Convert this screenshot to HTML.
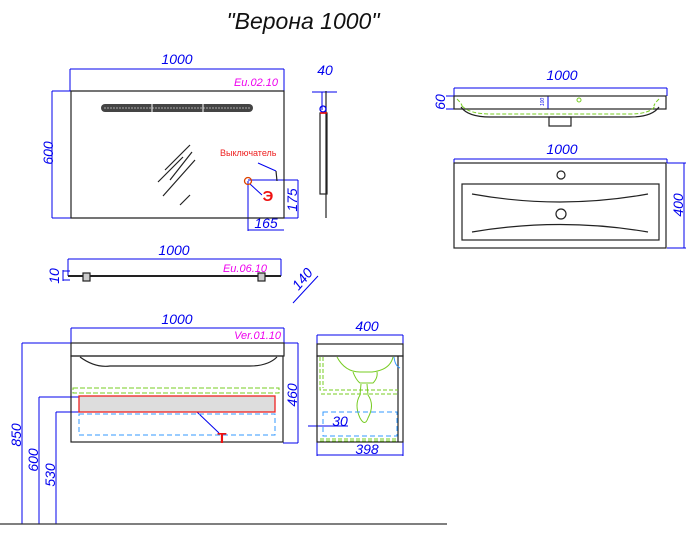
<!DOCTYPE html>
<html><head><meta charset="utf-8"><style>
html,body{margin:0;padding:0;background:#fff;width:698px;height:537px;overflow:hidden}
text{font-family:"Liberation Sans",sans-serif;font-style:italic}
</style></head><body>
<svg width="698" height="537" viewBox="0 0 698 537" xmlns="http://www.w3.org/2000/svg">
<text x="303" y="29" font-size="23" text-anchor="middle" fill="#111">"Верона 1000"</text>
<g fill="none" stroke="#0000ee" stroke-width="1">
<path d="M70 69H284M70 69V91M284 69V91M52 91V218M52 91H97M52 218H97"/>
<path d="M248 181V231M248 230H284M248 180H298M298 180V218M284 218H298"/>
<path d="M312 92H337M322 92V110"/>
<path d="M68 259H281M68 259V276M281 259V276M63 270V281M63 271H70M63 280H70M293 303L318 276"/>
<path d="M71 328H284M71 328V343M284 328V343M283 343H298M298 343V443M283 443H298"/>
<path d="M22 343H71M22 343V524M39 397H79M39 397V524M56 412H79M56 412V524"/>
<path d="M197 412L219 433"/>
<path d="M317 335H403M317 335V344M403 335V344M317 455H403M317 442V456M403 442V456M308 426H348"/>
<path d="M454 88H667M454 88V96M667 88V96M454 159H667M454 159V163M667 159V163M667 163H686M667 248H686M684 163V248M446 96H454M446 109H454M548 96H565M548 96V109"/>
<path d="M258 163L276 171"/>
<path d="M250 184L262 195"/>
</g>
<g fill="#0000ee" font-size="14">
<text x="177" y="64" text-anchor="middle">1000</text>
<text x="325" y="75" text-anchor="middle">40</text>
<text transform="translate(53,153) rotate(-90)" text-anchor="middle">600</text>
<text transform="translate(297,200) rotate(-90)" text-anchor="middle">175</text>
<text x="266" y="228" text-anchor="middle">165</text>
<text x="174" y="255" text-anchor="middle">1000</text>
<text transform="translate(59,276) rotate(-90)" text-anchor="middle">10</text>
<text transform="translate(306,282) rotate(-50)" text-anchor="middle">140</text>
<text x="177" y="324" text-anchor="middle">1000</text>
<text transform="translate(297,395) rotate(-90)" text-anchor="middle">460</text>
<text transform="translate(21,435) rotate(-90)" text-anchor="middle">850</text>
<text transform="translate(38,460) rotate(-90)" text-anchor="middle">600</text>
<text transform="translate(55,475) rotate(-90)" text-anchor="middle">530</text>
<text x="367" y="331" text-anchor="middle">400</text>
<text x="340" y="426" text-anchor="middle">30</text>
<text x="367" y="454" text-anchor="middle">398</text>
<text x="562" y="80" text-anchor="middle">1000</text>
<text transform="translate(445,102) rotate(-90)" text-anchor="middle">60</text>
<text x="562" y="154" text-anchor="middle">1000</text>
<text transform="translate(683,205) rotate(-90)" text-anchor="middle">400</text>
<text transform="translate(544,102) rotate(-90)" font-size="5" text-anchor="middle">100</text>
</g>
<g fill="#ee00ee" font-size="11">
<text x="278" y="86" text-anchor="end">Eu.02.10</text>
<text x="267" y="272" text-anchor="end">Eu.06.10</text>
<text x="281" y="339" text-anchor="end">Ver.01.10</text>
</g>
<g fill="none" stroke="#222" stroke-width="1.2">
<path d="M71 91H284V218H71Z"/>
<path d="M165 170L190 145M158 182L183 157M163 196L195 160M180 205L190 195M170 180L192 152"/>
<path d="M276 171L277 181"/>
<path d="M326 91V218"/>
<rect x="320" y="113" width="7" height="81"/>
<path d="M68 276H281" stroke-width="2"/>
<rect x="83" y="273" width="7" height="8" fill="#ccc"/>
<rect x="258" y="273" width="7" height="8" fill="#ccc"/>
<rect x="71" y="343" width="213" height="13"/>
<rect x="71" y="356" width="212" height="86"/>
<path d="M80 357Q95 368 110 366H250Q268 366 277 357"/>
<rect x="317" y="344" width="86" height="12"/>
<rect x="317" y="356" width="86" height="86"/>
<path d="M398 356V442"/>
<rect x="454" y="96" width="212" height="13"/>
<path d="M461 107Q468 117 490 117H630Q652 117 659 107"/>
<rect x="549" y="117" width="22" height="9"/>
<rect x="454" y="163" width="212" height="85"/>
<rect x="462" y="184" width="197" height="56"/>
<path d="M472 194Q560 210 648 194M472 232Q560 217 648 232"/>
<circle cx="561" cy="175" r="4"/>
<circle cx="561" cy="214" r="5"/>
</g>
<path d="M0 524H447" stroke="#333" stroke-width="1.2"/>
<rect x="101" y="104" width="152" height="8" rx="4" fill="#444"/>
<g stroke="#aaa" stroke-width="1" stroke-dasharray="2 1"><path d="M104 108H250"/></g>
<path d="M152 104V112M203 104V112" stroke="#fff"/>
<text x="220" y="156" font-size="9" fill="#ee2222" style="font-style:normal">Выключатель</text>
<circle cx="248" cy="181" r="3.5" fill="none" stroke="#dd4400" stroke-width="1.3"/>
<text x="268" y="201" font-size="15" font-weight="bold" fill="#ee1111" text-anchor="middle" style="font-style:normal">Э</text>
<circle cx="323" cy="109" r="3" fill="none" stroke="#0000ee" stroke-width="1.3"/>
<path d="M320 113H327" stroke="#ee0000" stroke-width="1.5"/>
<rect x="73" y="388" width="206" height="5" fill="none" stroke="#77cc22" stroke-dasharray="5 2"/>
<rect x="79" y="396" width="196" height="16" fill="#ddd" stroke="#ee2222" stroke-width="1.3"/>
<rect x="79" y="414" width="196" height="21" fill="none" stroke="#3399ff" stroke-dasharray="5 3"/>
<text x="222" y="443" font-size="15" font-weight="bold" fill="#ee1111" text-anchor="middle" style="font-style:normal">T</text>
<g fill="none" stroke="#77cc22" stroke-width="1">
<path d="M320 357V390H398M323 357V388" stroke-dasharray="4 2"/>
<path d="M321 394H398M320 439H398M320 441H398" stroke-dasharray="4 2"/>
<path d="M337 357Q345 372 360 372H372Q390 370 393 357"/>
<path d="M353 372Q356 380 360 383H373Q378 378 377 372"/>
<path d="M361 384L360 395Q354 405 360 418Q365 427 368 418Q375 405 368 395L367 384"/>
<path d="M457 99Q462 104 462 106M659 99Q654 104 654 106M462 106Q470 114 490 114H630Q650 114 655 106" stroke-dasharray="4 2"/>
</g>
<rect x="323" y="412" width="74" height="24" fill="none" stroke="#3399ff" stroke-dasharray="5 3"/>
<path d="M394 357Q395 366 400 368" stroke="#3399ff" fill="none"/>
<circle cx="579" cy="100" r="2" fill="none" stroke="#77cc22"/>
</svg>
</body></html>
